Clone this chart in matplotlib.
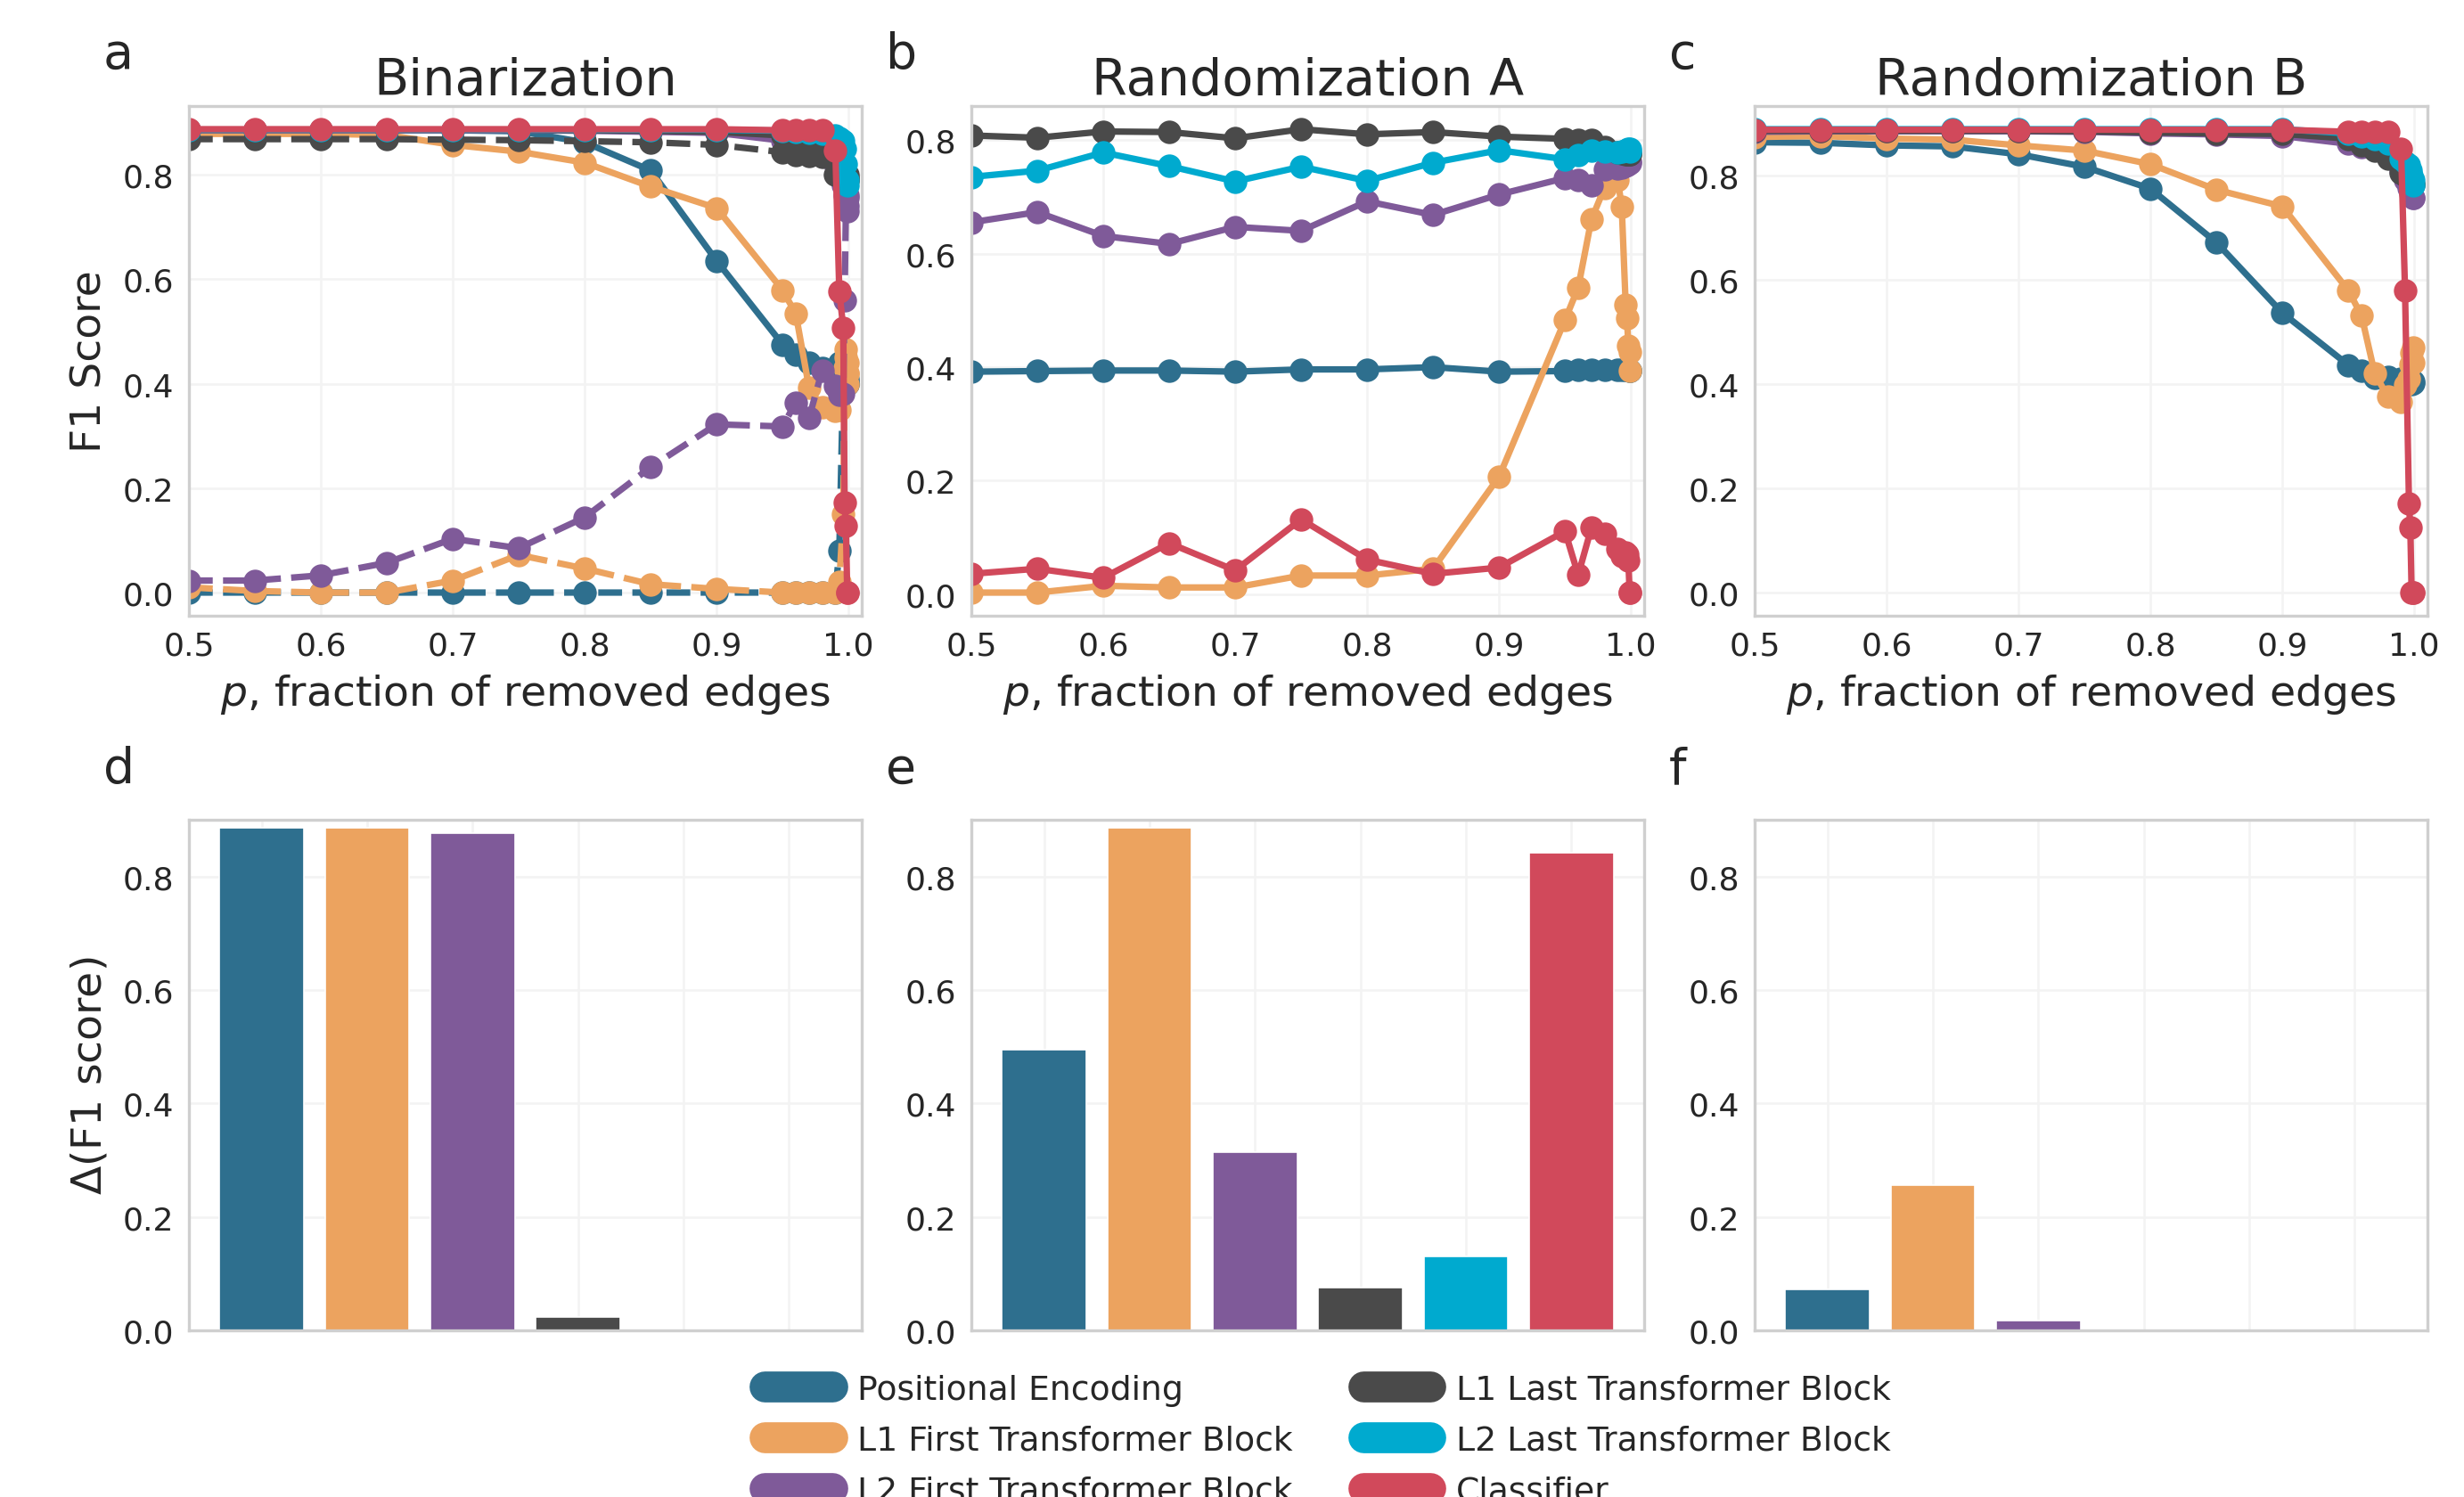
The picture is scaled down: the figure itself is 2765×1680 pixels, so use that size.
import numpy as np
import matplotlib
matplotlib.use("Agg")
import matplotlib.pyplot as plt
from matplotlib.lines import Line2D

plt.rcParams['font.family'] = ['DejaVu Sans']

# ---------------- data ----------------
p = [0.5, 0.55, 0.6, 0.65, 0.7, 0.75, 0.8, 0.85, 0.9, 0.95, 0.96, 0.97, 0.98,
     0.99, 0.993, 0.996, 0.997, 0.998, 0.999, 0.9995]

layer_names = ["Positional Encoding", "L1 First Transformer Block",
               "L2 First Transformer Block", "L1 Last Transformer Block",
               "L2 Last Transformer Block", "Classifier"]
layer_colors = ["#2e6f8e", "#eca35f", "#7f5a99", "#4a4a4a", "#00aacf", "#d1495b"]

# Binarization (solid)
bin_pe = [0.885, 0.885, 0.885, 0.885, 0.885, 0.883, 0.862, 0.808, 0.635, 0.475, 0.455, 0.440, 0.430,
          0.425, 0.440, 0.430, 0.420, 0.410, 0.405, 0.400]
bin_l1f = [0.878, 0.878, 0.878, 0.876, 0.857, 0.844, 0.823, 0.777, 0.736, 0.579, 0.534, 0.393, 0.354,
           0.348, 0.350, 0.400, 0.430, 0.466, 0.440, 0.420]
bin_l2f = [0.885, 0.885, 0.885, 0.885, 0.885, 0.885, 0.884, 0.882, 0.880, 0.865, 0.860, 0.855, 0.850,
           0.820, 0.800, 0.780, 0.760, 0.750, 0.740, 0.730]
bin_l1l = [0.886, 0.886, 0.886, 0.886, 0.886, 0.886, 0.885, 0.884, 0.882, 0.875, 0.870, 0.860, 0.845,
           0.830, 0.815, 0.810, 0.805, 0.800, 0.795, 0.790]
bin_l2l = [0.886, 0.886, 0.886, 0.886, 0.886, 0.886, 0.886, 0.886, 0.886, 0.884, 0.882, 0.880, 0.878,
           0.875, 0.870, 0.865, 0.850, 0.820, 0.790, 0.780]
bin_cls = [0.887, 0.887, 0.887, 0.887, 0.887, 0.887, 0.887, 0.887, 0.887, 0.885, 0.885, 0.885, 0.885,
           0.846, 0.577, 0.507, 0.172, 0.128, 0.0, 0.0]
# Binarization (dashed)
bin_pe_d = [0.0, 0.0, 0.0, 0.0, 0.0, 0.0, 0.0, 0.0, 0.0, 0.0, 0.0, 0.0, 0.0,
            0.0, 0.08, 0.42, 0.43, 0.42, 0.41, 0.40]
bin_l1f_d = [0.010, 0.003, 0.0, 0.0, 0.023, 0.072, 0.046, 0.016, 0.007, 0.0, 0.0, 0.0, 0.0,
             0.0, 0.02, 0.15, 0.40, 0.45, 0.42, 0.40]
bin_l2f_d = [0.023, 0.023, 0.033, 0.057, 0.103, 0.085, 0.144, 0.240, 0.322, 0.318, 0.364, 0.334, 0.425,
             0.395, 0.378, 0.380, 0.560, 0.735, 0.755, 0.760]
bin_l1l_d = [0.868, 0.868, 0.868, 0.868, 0.867, 0.866, 0.864, 0.862, 0.857, 0.843, 0.838, 0.836, 0.834,
             0.800, 0.820, 0.815, 0.810, 0.805, 0.800, 0.790]

# Randomization A
rA_pe = [0.392, 0.393, 0.394, 0.394, 0.392, 0.396, 0.396, 0.400, 0.392, 0.393, 0.396, 0.396, 0.396,
         0.396, 0.396, 0.396, 0.396, 0.395, 0.394, 0.394]
rA_l1f = [0.003, 0.003, 0.015, 0.012, 0.012, 0.033, 0.033, 0.045, 0.207, 0.483, 0.540, 0.660, 0.716,
          0.730, 0.683, 0.510, 0.486, 0.438, 0.426, 0.393]
rA_l2f = [0.655, 0.673, 0.631, 0.617, 0.647, 0.640, 0.692, 0.668, 0.704, 0.733, 0.730, 0.720, 0.748,
          0.750, 0.752, 0.755, 0.757, 0.758, 0.760, 0.762]
rA_l1l = [0.808, 0.804, 0.815, 0.814, 0.803, 0.819, 0.810, 0.814, 0.806, 0.802, 0.800, 0.800, 0.787,
          0.778, 0.776, 0.775, 0.775, 0.775, 0.775, 0.775]
rA_l2l = [0.735, 0.746, 0.778, 0.754, 0.727, 0.753, 0.728, 0.760, 0.782, 0.766, 0.774, 0.781, 0.779,
          0.778, 0.780, 0.782, 0.783, 0.784, 0.784, 0.780]
rA_cls = [0.036, 0.045, 0.029, 0.090, 0.042, 0.132, 0.061, 0.036, 0.047, 0.111, 0.034, 0.117, 0.106,
          0.080, 0.068, 0.074, 0.070, 0.060, 0.003, 0.003]

# Randomization B
rB_pe = [0.863, 0.862, 0.857, 0.855, 0.840, 0.816, 0.774, 0.671, 0.536, 0.436, 0.425, 0.412, 0.414,
         0.410, 0.404, 0.410, 0.405, 0.400, 0.402, 0.404]
rB_l1f = [0.873, 0.875, 0.870, 0.868, 0.857, 0.847, 0.821, 0.772, 0.740, 0.579, 0.531, 0.420, 0.375,
          0.365, 0.398, 0.410, 0.437, 0.460, 0.469, 0.440]
rB_l2f = [0.883, 0.884, 0.884, 0.884, 0.884, 0.883, 0.880, 0.878, 0.875, 0.860, 0.854, 0.850, 0.844,
          0.808, 0.790, 0.775, 0.765, 0.760, 0.756, 0.756]
rB_l1l = [0.885, 0.885, 0.885, 0.885, 0.885, 0.884, 0.882, 0.880, 0.879, 0.870, 0.857, 0.847, 0.831,
          0.805, 0.800, 0.795, 0.790, 0.785, 0.782, 0.782]
rB_l2l = [0.888, 0.888, 0.888, 0.888, 0.888, 0.888, 0.888, 0.888, 0.888, 0.880, 0.875, 0.870, 0.860,
          0.831, 0.825, 0.820, 0.810, 0.800, 0.790, 0.780]
rB_cls = [0.887, 0.887, 0.887, 0.887, 0.887, 0.887, 0.887, 0.887, 0.887, 0.883, 0.883, 0.883, 0.883,
          0.850, 0.579, 0.170, 0.125, 0.0, 0.0, 0.0]

# Delta F1 bars
bars_bin = [0.886, 0.886, 0.876, 0.024, 0.0, 0.0]
bars_rA = [0.494, 0.886, 0.314, 0.075, 0.130, 0.842]
bars_rB = [0.072, 0.256, 0.017, 0.0, 0.0, 0.0]

titles = ["Binarization", "Randomization A", "Randomization B"]
letters_top = ["a", "b", "c"]
letters_bot = ["d", "e", "f"]
xticks_top = [0.5, 0.6, 0.7, 0.8, 0.9, 1.0]
yticks = [0.0, 0.2, 0.4, 0.6, 0.8]

# ---------------- figure ----------------
W, H = 2765, 1681
DPI = 200
fig = plt.figure(figsize=(W / DPI, H / DPI), dpi=DPI)

TXT = "#262626"
GRID = "#f3f3f3"
SPINE = "#cfcfcf"

col_lefts = [212, 1090, 1969]
col_w = 755
top_y0, top_y1 = 120, 692
bot_y0, bot_y1 = 921, 1494


def make_ax(xl, y0, y1):
    return fig.add_axes([xl / W, 1 - y1 / H, col_w / W, (y1 - y0) / H])


def style(ax):
    ax.set_facecolor("white")
    for s in ax.spines.values():
        s.set_color(SPINE)
        s.set_linewidth(1.2)
    ax.grid(True, color=GRID, linewidth=0.9)
    ax.set_axisbelow(True)
    ax.tick_params(length=0, labelsize=13, colors=TXT, pad=6)


top_sets = [
    [bin_pe, bin_l1f, bin_l2f, bin_l1l, bin_l2l, bin_cls],
    [rA_pe, rA_l1f, rA_l2f, rA_l1l, rA_l2l, rA_cls],
    [rB_pe, rB_l1f, rB_l2f, rB_l1l, rB_l2l, rB_cls],
]
dashed_sets = {0: {0: bin_pe_d, 1: bin_l1f_d, 2: bin_l2f_d, 3: bin_l1l_d}}

LW = 2.6
MS = 8.5
for i in range(3):
    ax = make_ax(col_lefts[i], top_y0, top_y1)
    style(ax)
    for k in range(6):
        ax.plot(p, top_sets[i][k], color=layer_colors[k], lw=LW, marker="o", ms=MS,
                solid_capstyle="round")
        if i in dashed_sets and k in dashed_sets[i]:
            ax.plot(p, dashed_sets[i][k], color=layer_colors[k], lw=LW, marker="o", ms=MS,
                    linestyle="--")
    ax.set_xlim(0.5, 1.01)
    ax.set_xticks(xticks_top)
    ax.set_xticklabels([f"{v:.1f}" for v in xticks_top])
    ax.set_yticks(yticks)
    ax.set_yticklabels([f"{v:.1f}" for v in yticks])
    ax.set_title(titles[i], fontsize=20.6, color=TXT, pad=4.5)
    ax.set_xlabel(r"$p$, fraction of removed edges", fontsize=17, color=TXT, labelpad=4.5)
    if i == 0:
        ax.set_ylabel("F1 Score", fontsize=17, color=TXT, labelpad=5)
    fig.text((col_lefts[i] - 96) / W, 1 - 62 / H, letters_top[i], fontsize=20,
             color=TXT, ha="left", va="center")

bar_sets = [bars_bin, bars_rA, bars_rB]
cats = np.arange(len(layer_names))
for i in range(3):
    ax = make_ax(col_lefts[i], bot_y0, bot_y1)
    style(ax)
    ax.bar(cats, bar_sets[i], width=0.8, color=layer_colors, edgecolor="white", linewidth=0.6)
    ax.set_xticks(cats)
    ax.set_xticklabels([])
    ax.set_ylim(0, 0.9)
    ax.set_yticks(yticks)
    ax.set_yticklabels([f"{v:.1f}" for v in yticks])
    if i == 0:
        ax.set_ylabel(r"$\Delta$(F1 score)", fontsize=17, color=TXT, labelpad=5)
    fig.text((col_lefts[i] - 96) / W, 1 - 864 / H, letters_bot[i], fontsize=20,
             color=TXT, ha="left", va="center")

handles = [Line2D([0], [0], color=c, lw=12.5, solid_capstyle="round") for c in layer_colors]
fig.legend(handles, layer_names,
           loc="upper left", bbox_to_anchor=(0.298, 0.1025), ncol=2, frameon=False,
           fontsize=13.6, handlelength=2.0, handletextpad=0.75, columnspacing=2.1,
           labelspacing=0.55, labelcolor=TXT)

fig.savefig("out.png", dpi=DPI)
